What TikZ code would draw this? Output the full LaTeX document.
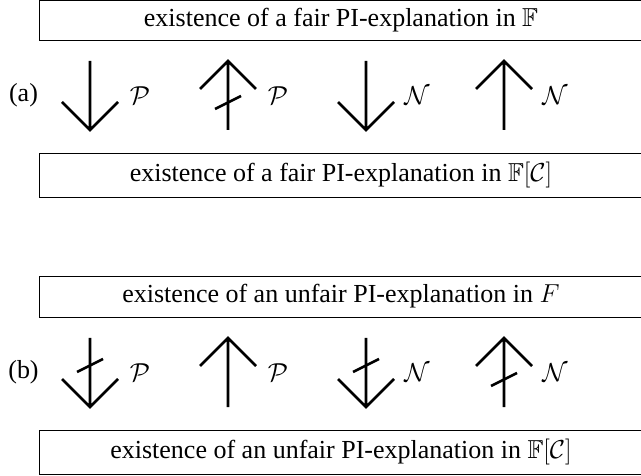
\RequirePackage{fix-cm}
\documentclass[tikz,border=0pt]{standalone}
\usepackage{amsmath, amssymb}
\usepackage{fontspec}
\setmainfont{Liberation Serif}
\usetikzlibrary{positioning}

\tikzset{
  dnarr/.pic={\draw[arr] (0,-34.5) -- (0,34.5) (-28,6.5) -- (0,34.5) -- (28,6.5);},
  uparr/.pic={\draw[arr] (0,34.5) -- (0,-34.5) (-28,-6.5) -- (0,-34.5) -- (28,-6.5);},
  dncross/.pic={\pic {dnarr}; \draw[arr] (-13,-0.5) -- (13,-13.5);},
  upcross/.pic={\pic {uparr}; \draw[arr] (-13,13.5) -- (13,0.5);},
}

\begin{document}
\begin{tikzpicture}[
      x=1pt, y=-1pt,
      box/.style={draw, line width=0.9pt, minimum width=604pt, minimum height=#1,
                  inner sep=0pt, font=\fontsize{26}{30}\selectfont},
      arr/.style={line width=2.6pt},
      tag/.style={inner sep=0pt, font=\fontsize{26}{30}\selectfont}
  ]
    \useasboundingbox (0,0) rectangle (641,476);

    % (a) fair explanations
    \node[box=40pt] (fairF)  at (341,20)  {existence of a fair PI-explanation in $\mathbb{F}$};
    \node[box=44pt] (fairFC) at (341,175) {existence of a fair PI-explanation in $\mathbb{F}[\mathcal{C}]$};
    \node[tag] (lba) at (23.5,95.5) {(a)};

    \pic at (90,95.5)  {dnarr};
    \pic at (228,95.5) {upcross};
    \pic at (366,95.5) {dnarr};
    \pic at (504,95.5) {uparr};
    \node[tag] (ap1) at (140,95.5) {$\mathcal{P}$};
    \node[tag] (ap2) at (278,95.5) {$\mathcal{P}$};
    \node[tag] (an1) at (417,95.5) {$\mathcal{N}$};
    \node[tag] (an2) at (555,95.5) {$\mathcal{N}$};

    % (b) unfair explanations
    \node[box=41pt] (unfF)  at (341,296.5) {existence of an unfair PI-explanation in $F$};
    \node[box=44pt] (unfFC) at (341,452)   {existence of an unfair PI-explanation in $\mathbb{F}[\mathcal{C}]$};
    \node[tag] (lbb) at (23.5,372.5) {(b)};

    \pic at (90,372.5)  {dncross};
    \pic at (228,372.5) {uparr};
    \pic at (366,372.5) {dncross};
    \pic at (504,372.5) {upcross};
    \node[tag] (bp1) at (140,372.5) {$\mathcal{P}$};
    \node[tag] (bp2) at (278,372.5) {$\mathcal{P}$};
    \node[tag] (bn1) at (417,372.5) {$\mathcal{N}$};
    \node[tag] (bn2) at (555,372.5) {$\mathcal{N}$};
  \end{tikzpicture}
\end{document}
